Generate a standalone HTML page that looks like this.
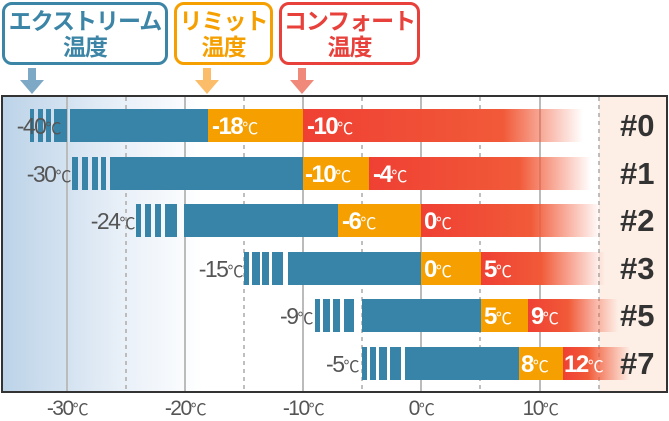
<!DOCTYPE html>
<html><head><meta charset="utf-8"><style>
*{margin:0;padding:0;box-sizing:border-box}
body{width:669px;height:420px;background:#fff;position:relative;overflow:hidden;font-family:"Liberation Sans","Noto Sans CJK JP",sans-serif}
.a{position:absolute}
.box{position:absolute;top:2px;height:63px;border:3px solid;border-radius:10px;background:#fff;text-align:center;font-weight:bold;font-size:23px;line-height:26px;padding-top:3px;letter-spacing:-1px;white-space:nowrap}
.bar{position:absolute;height:33px}
.t{position:absolute;color:#fff;font-weight:bold;font-size:24px;line-height:35px;letter-spacing:-1.5px}
.t small,.l small,.ax small{font-size:16px;font-weight:normal}
.l{position:absolute;color:#555;font-size:23px;line-height:35px;letter-spacing:-1.5px;text-align:right}
.n{position:absolute;color:#333;font-weight:bold;font-size:31px;line-height:33px;left:620px}
.ax{position:absolute;top:396px;color:#555;font-size:21px;letter-spacing:-1.5px;transform:translateX(-50%)}
.s{position:absolute;height:33px;width:6px;background:#3784a8}
</style></head><body>
<div class="box" style="left:2px;width:166px;border-color:#3c85a6;color:#3c85a6">エクストリーム<br>温度</div>
<div class="box" style="left:174px;width:99px;border-color:#f5a000;color:#f5a000">リミット<br>温度</div>
<div class="box" style="left:279px;width:141px;border-color:#e8403a;color:#e8403a">コンフォート<br>温度</div>
<svg class="a" style="left:0;top:66px" width="669" height="30">
<rect x="28" y="2" width="8" height="14" fill="#7ea9c6"/><polygon points="20,14 44,14 32,28" fill="#7ea9c6"/>
<rect x="203" y="2" width="8" height="14" fill="#fbbd6a"/><polygon points="195,14 219,14 207,28" fill="#fbbd6a"/>
<rect x="298" y="2" width="8" height="14" fill="#f1897a"/><polygon points="290,14 314,14 302,28" fill="#f1897a"/>
</svg>
<div class="a" style="left:1px;top:95px;width:667px;height:298px;border:2px solid #333;background:linear-gradient(90deg,#bcd3e8 0,#e9f0f8 120px,#fff 200px)"></div>
<div class="a" style="left:599px;top:97px;width:67px;height:294px;background:#fdeee6"></div>
<svg class="a" style="left:0;top:97px" width="669" height="294">
<g stroke="#bbb" stroke-width="2"><line x1="67" y1="0" x2="67" y2="294"/><line x1="185" y1="0" x2="185" y2="294"/><line x1="303" y1="0" x2="303" y2="294"/><line x1="421" y1="0" x2="421" y2="294"/><line x1="540" y1="0" x2="540" y2="294"/></g>
<g stroke="#aaa" stroke-width="1.5" stroke-dasharray="4,4"><line x1="126" y1="0" x2="126" y2="294"/><line x1="244" y1="0" x2="244" y2="294"/><line x1="362" y1="0" x2="362" y2="294"/><line x1="480" y1="0" x2="480" y2="294"/><line x1="599" y1="0" x2="599" y2="294"/></g>
</svg>

<!-- row 0 -->
<div class="bar" style="left:303px;top:109px;width:280px;background:linear-gradient(90deg,#ef4034 0,#f15a38 200px,rgba(245,110,70,0) 280px)"></div>
<div class="bar" style="left:208px;top:109px;width:95px;background:#f5a000"></div>
<div class="bar" style="left:70px;top:109px;width:138px;background:#3784a8"></div>
<div class="s" style="left:30px;top:109px;width:4px"></div><div class="s" style="left:38px;top:109px;width:5px"></div><div class="s" style="left:46px;top:109px;width:5px"></div><div class="s" style="left:54px;top:109px;width:13px"></div>
<div class="l" style="left:0;top:109px;width:60px">-40<small>℃</small></div>
<div class="t" style="left:212px;top:109px">-18<small>℃</small></div>
<div class="t" style="left:307px;top:109px">-10<small>℃</small></div>
<div class="n" style="top:109px">#0</div>
<!-- row 1 -->
<div class="bar" style="left:369px;top:157px;width:222px;background:linear-gradient(90deg,#ef4034 0,#f15a38 150px,rgba(245,110,70,0) 222px)"></div>
<div class="bar" style="left:303px;top:157px;width:66px;background:#f5a000"></div>
<div class="bar" style="left:110px;top:157px;width:193px;background:#3784a8"></div>
<div class="s" style="left:72px;top:157px"></div><div class="s" style="left:82px;top:157px"></div><div class="s" style="left:92px;top:157px"></div><div class="s" style="left:101px;top:157px;width:5px"></div>
<div class="l" style="left:0;top:157px;width:70px">-30<small>℃</small></div>
<div class="t" style="left:305px;top:157px">-10<small>℃</small></div>
<div class="t" style="left:373px;top:157px">-4<small>℃</small></div>
<div class="n" style="top:157px">#1</div>
<!-- row 2 -->
<div class="bar" style="left:421px;top:204px;width:180px;background:linear-gradient(90deg,#ef4034 0,#f15a38 110px,rgba(245,110,70,0) 180px)"></div>
<div class="bar" style="left:338px;top:204px;width:83px;background:#f5a000"></div>
<div class="bar" style="left:184px;top:204px;width:154px;background:#3784a8"></div>
<div class="s" style="left:136px;top:204px;width:5px"></div><div class="s" style="left:145px;top:204px"></div><div class="s" style="left:155px;top:204px"></div><div class="s" style="left:165px;top:204px;width:12px"></div>
<div class="l" style="left:50px;top:204px;width:84px">-24<small>℃</small></div>
<div class="t" style="left:342px;top:204px">-6<small>℃</small></div>
<div class="t" style="left:424px;top:204px">0<small>℃</small></div>
<div class="n" style="top:204px">#2</div>
<!-- row 3 -->
<div class="bar" style="left:481px;top:252px;width:124px;background:linear-gradient(90deg,#ef4034 0,#f15a38 60px,rgba(245,110,70,0) 124px)"></div>
<div class="bar" style="left:421px;top:252px;width:60px;background:#f5a000"></div>
<div class="bar" style="left:288px;top:252px;width:133px;background:#3784a8"></div>
<div class="s" style="left:244px;top:252px;width:5px"></div><div class="s" style="left:252px;top:252px;width:8px"></div><div class="s" style="left:262px;top:252px;width:7px"></div><div class="s" style="left:272px;top:252px;width:11px"></div>
<div class="l" style="left:150px;top:252px;width:92px">-15<small>℃</small></div>
<div class="t" style="left:424px;top:252px">0<small>℃</small></div>
<div class="t" style="left:484px;top:252px">5<small>℃</small></div>
<div class="n" style="top:252px">#3</div>
<!-- row 5 -->
<div class="bar" style="left:528px;top:299px;width:90px;background:linear-gradient(90deg,#ef4034 0,#f15a38 40px,rgba(245,110,70,0) 90px)"></div>
<div class="bar" style="left:481px;top:299px;width:47px;background:#f5a000"></div>
<div class="bar" style="left:362px;top:299px;width:119px;background:#3784a8"></div>
<div class="s" style="left:315px;top:299px;width:5px"></div><div class="s" style="left:323px;top:299px;width:7px"></div><div class="s" style="left:333px;top:299px;width:7px"></div><div class="s" style="left:344px;top:299px;width:10px"></div>
<div class="l" style="left:230px;top:299px;width:82px">-9<small>℃</small></div>
<div class="t" style="left:484px;top:299px">5<small>℃</small></div>
<div class="t" style="left:531px;top:299px">9<small>℃</small></div>
<div class="n" style="top:299px">#5</div>
<!-- row 7 -->
<div class="bar" style="left:563px;top:347px;width:67px;background:linear-gradient(90deg,#ef4034 0,#f15a38 25px,rgba(245,110,70,0) 67px)"></div>
<div class="bar" style="left:519px;top:347px;width:44px;background:#f5a000"></div>
<div class="bar" style="left:405px;top:347px;width:114px;background:#3784a8"></div>
<div class="s" style="left:362px;top:347px;width:5px"></div><div class="s" style="left:370px;top:347px;width:6px"></div><div class="s" style="left:379px;top:347px;width:8px"></div><div class="s" style="left:390px;top:347px;width:11px"></div>
<div class="l" style="left:280px;top:347px;width:78px">-5<small>℃</small></div>
<div class="t" style="left:521px;top:347px">8<small>℃</small></div>
<div class="t" style="left:564px;top:347px">12<small>℃</small></div>
<div class="n" style="top:347px">#7</div>

<div class="ax" style="left:67px">-30<small>℃</small></div>
<div class="ax" style="left:185px">-20<small>℃</small></div>
<div class="ax" style="left:303px">-10<small>℃</small></div>
<div class="ax" style="left:421px">0<small>℃</small></div>
<div class="ax" style="left:540px">10<small>℃</small></div>
</body></html>
